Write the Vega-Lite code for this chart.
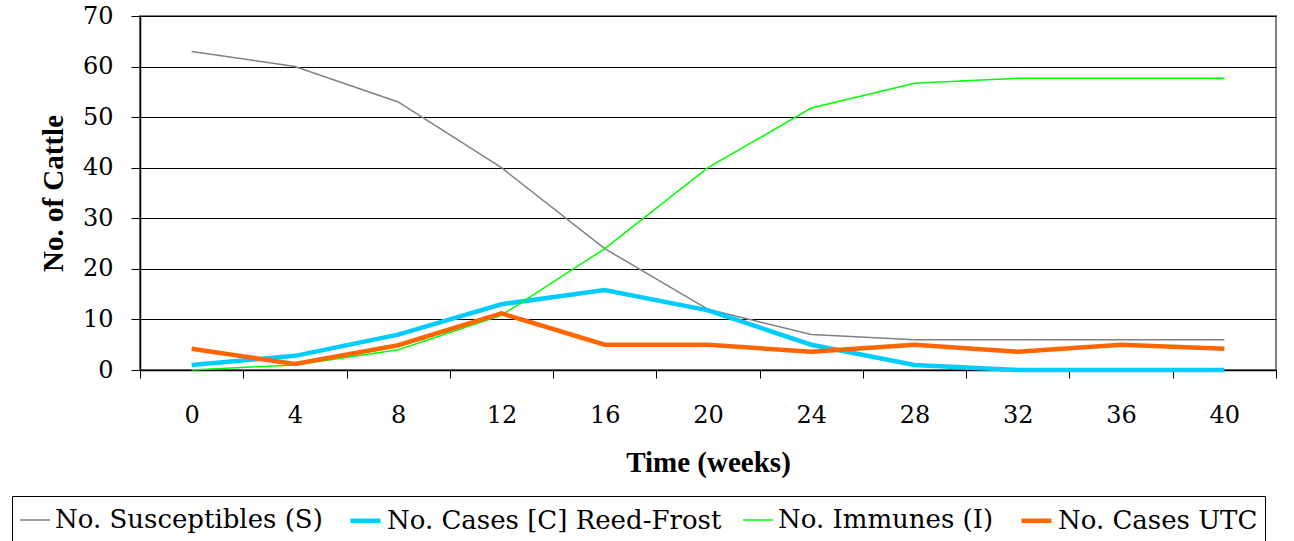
{
  "$schema": "https://vega.github.io/schema/vega-lite/v6.json",
  "width": 1136,
  "height": 354,
  "autosize": "none",
  "padding": {"left": 140, "top": 16, "right": 18, "bottom": 171},
  "background": "white",
  "config": {
    "font": "Liberation Serif",
    "view": {"stroke": "#808080", "strokeWidth": 2}
  },
  "data": {
    "values": [
      {"week": 0, "series": "No. Susceptibles (S)", "value": 63},
      {"week": 4, "series": "No. Susceptibles (S)", "value": 60},
      {"week": 8, "series": "No. Susceptibles (S)", "value": 53},
      {"week": 12, "series": "No. Susceptibles (S)", "value": 40},
      {"week": 16, "series": "No. Susceptibles (S)", "value": 24},
      {"week": 20, "series": "No. Susceptibles (S)", "value": 12},
      {"week": 24, "series": "No. Susceptibles (S)", "value": 7},
      {"week": 28, "series": "No. Susceptibles (S)", "value": 6},
      {"week": 32, "series": "No. Susceptibles (S)", "value": 6},
      {"week": 36, "series": "No. Susceptibles (S)", "value": 6},
      {"week": 40, "series": "No. Susceptibles (S)", "value": 6},
      {"week": 0, "series": "No. Cases [C] Reed-Frost", "value": 1},
      {"week": 4, "series": "No. Cases [C] Reed-Frost", "value": 2.8},
      {"week": 8, "series": "No. Cases [C] Reed-Frost", "value": 7},
      {"week": 12, "series": "No. Cases [C] Reed-Frost", "value": 13},
      {"week": 16, "series": "No. Cases [C] Reed-Frost", "value": 15.8},
      {"week": 20, "series": "No. Cases [C] Reed-Frost", "value": 11.8},
      {"week": 24, "series": "No. Cases [C] Reed-Frost", "value": 5},
      {"week": 28, "series": "No. Cases [C] Reed-Frost", "value": 1},
      {"week": 32, "series": "No. Cases [C] Reed-Frost", "value": 0},
      {"week": 36, "series": "No. Cases [C] Reed-Frost", "value": 0},
      {"week": 40, "series": "No. Cases [C] Reed-Frost", "value": 0},
      {"week": 0, "series": "No. Immunes (I)", "value": 0},
      {"week": 4, "series": "No. Immunes (I)", "value": 1},
      {"week": 8, "series": "No. Immunes (I)", "value": 4},
      {"week": 12, "series": "No. Immunes (I)", "value": 10.8},
      {"week": 16, "series": "No. Immunes (I)", "value": 24},
      {"week": 20, "series": "No. Immunes (I)", "value": 40},
      {"week": 24, "series": "No. Immunes (I)", "value": 51.8},
      {"week": 28, "series": "No. Immunes (I)", "value": 56.7},
      {"week": 32, "series": "No. Immunes (I)", "value": 57.7},
      {"week": 36, "series": "No. Immunes (I)", "value": 57.7},
      {"week": 40, "series": "No. Immunes (I)", "value": 57.7},
      {"week": 0, "series": "No. Cases UTC", "value": 4.2},
      {"week": 4, "series": "No. Cases UTC", "value": 1.2},
      {"week": 8, "series": "No. Cases UTC", "value": 4.9},
      {"week": 12, "series": "No. Cases UTC", "value": 11.2},
      {"week": 16, "series": "No. Cases UTC", "value": 5},
      {"week": 20, "series": "No. Cases UTC", "value": 5},
      {"week": 24, "series": "No. Cases UTC", "value": 3.6},
      {"week": 28, "series": "No. Cases UTC", "value": 5},
      {"week": 32, "series": "No. Cases UTC", "value": 3.6},
      {"week": 36, "series": "No. Cases UTC", "value": 5},
      {"week": 40, "series": "No. Cases UTC", "value": 4.2}
    ]
  },
  "mark": {"type": "line", "strokeJoin": "miter", "strokeCap": "butt"},
  "encoding": {
    "x": {
      "field": "week",
      "type": "ordinal",
      "bandPosition": 0.5,
      "sort": null,
      "scale": {"type": "band", "paddingInner": 0, "paddingOuter": 0},
      "axis": {
        "title": "Time (weeks)",
        "titleFont": "Liberation Serif",
        "titleFontSize": 29,
        "titleFontWeight": "bold",
        "titleColor": "black",
        "titlePadding": 21,
        "labelAngle": 0,
        "labelFont": "DejaVu Serif",
        "labelFontSize": 24,
        "labelColor": "black",
        "labelPadding": 25,
        "tickBand": "extent",
        "tickSize": 8,
        "tickColor": "black",
        "domainColor": "black",
        "domainWidth": 1.5,
        "grid": false
      }
    },
    "y": {
      "field": "value",
      "type": "quantitative",
      "scale": {"domain": [0, 70], "nice": false, "zero": true},
      "axis": {
        "title": "No. of Cattle",
        "titleFont": "Liberation Serif",
        "titleFontSize": 29,
        "titleFontWeight": "bold",
        "titleColor": "black",
        "titlePadding": 14,
        "values": [0, 10, 20, 30, 40, 50, 60, 70],
        "labelFont": "DejaVu Serif",
        "labelFontSize": 24,
        "labelColor": "black",
        "labelPadding": 18,
        "tickSize": 9,
        "tickColor": "black",
        "domainColor": "black",
        "domainWidth": 1.5,
        "grid": true,
        "gridColor": "black",
        "gridWidth": 1.2,
        "gridOpacity": 1
      }
    },
    "color": {
      "field": "series",
      "type": "nominal",
      "sort": ["No. Susceptibles (S)", "No. Cases [C] Reed-Frost", "No. Immunes (I)", "No. Cases UTC"],
      "scale": {
        "domain": ["No. Susceptibles (S)", "No. Cases [C] Reed-Frost", "No. Immunes (I)", "No. Cases UTC"],
        "range": ["#808080", "#00ccff", "#00ff00", "#ff6600"]
      },
      "legend": {
        "title": null,
        "orient": "none",
        "legendX": -128,
        "legendY": 480,
        "direction": "horizontal",
        "strokeColor": "black",
        "padding": 7,
        "symbolType": "stroke",
        "symbolSize": 900,
        "symbolStrokeWidth": 3,
        "labelFont": "DejaVu Serif",
        "labelFontSize": 26,
        "labelColor": "black",
        "labelOffset": 4,
        "columnPadding": 18,
        "labelLimit": 500
      }
    },
    "strokeWidth": {
      "field": "series",
      "type": "nominal",
      "scale": {
        "type": "ordinal",
        "domain": ["No. Susceptibles (S)", "No. Cases [C] Reed-Frost", "No. Immunes (I)", "No. Cases UTC"],
        "range": [1.5, 4.5, 1.5, 4.5]
      },
      "legend": null
    }
  }
}
